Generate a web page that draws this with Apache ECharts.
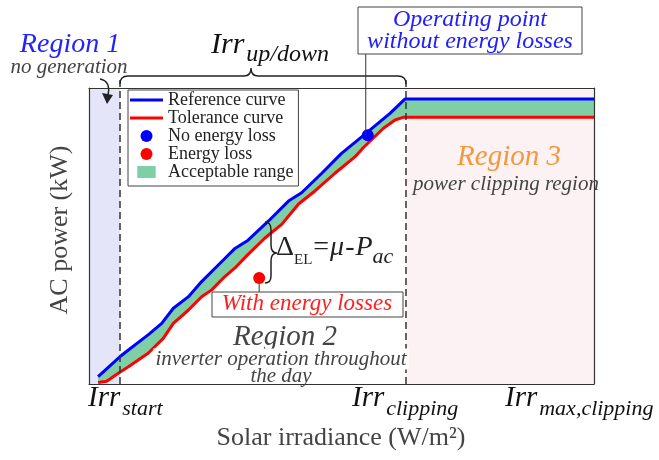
<!DOCTYPE html>
<html>
<head>
<meta charset="utf-8">
<script src="https://cdn.jsdelivr.net/npm/echarts@6/dist/echarts.min.js"></script>
<style>
  html, body { margin: 0; padding: 0; background: #fff; }
  #chart { width: 659px; height: 460px; }
</style>
</head>
<body>
<div id="chart"></div>
<script>
// Normalised irradiance (0-100) vs normalised AC power (0-100)
const refX = [1.8, 6.1, 7.8, 11.7, 14.4, 16.7, 19.7, 22.3, 25.0, 26.6, 28.9, 31.5, 35.5, 39.5, 42.1, 46.1, 50.0, 54.0, 59.6, 62.6, 100];
const refY = [2.5, 9.2, 11.5, 16.6, 20.5, 25.6, 29.5, 34.6, 39.2, 41.9, 45.8, 48.6, 55.0, 61.8, 64.6, 71.2, 77.9, 83.5, 91.4, 96.3, 96.3];
const tolX = [1.8, 3.5, 5.8, 7.8, 11.7, 14.7, 16.7, 19.7, 22.3, 24.3, 26.9, 28.9, 31.5, 34.9, 38.2, 41.5, 44.8, 48.7, 52.7, 54.3, 58.3, 60.6, 62.2, 100];
const tolY = [0.5, 0.9, 3.6, 5.8, 10.4, 15.4, 20.5, 25.0, 29.5, 31.8, 36.3, 39.2, 43.8, 49.4, 54.0, 60.8, 65.3, 71.2, 76.8, 79.8, 86.4, 89.2, 90.1, 90.1];
const regionBounds = [6.14, 62.77];     // Irr_start, Irr_clipping
const noLossPoint = [55.2, 84.0];
const lossPoint = [33.7, 35.8];
const legendNames = ['Reference curve', 'Tolerance curve', 'No energy loss', 'Energy loss', 'Acceptable range'];

const SERIF = 'Liberation Serif';
const GREEN = '#7fcfa6';
const BLUE = '#0000ff';
const RED = '#ff0000';
const LINE_ICON = 'path://M0,0 L33,0 L33,3 L0,3 Z';
const RANGE_ICON = 'path://M0,0 L23,0 L23,15 L0,15 Z';

const chart = echarts.init(document.getElementById('chart'), null, { renderer: 'canvas' });

const hiddenAxis = {
  type: 'value', min: 0, max: 100,
  axisTick: { show: false }, axisLabel: { show: false }, splitLine: { show: false },
  axisLine: { show: true, onZero: false, lineStyle: { color: '#333', width: 1.2 } },
  z: 10
};

// pixel-space decorations: braces and the region-1 arrow
function decorPaths(startX, clipX) {
  const by = 76, mid = 251;
  return [
    {
      d: 'M' + startX + ',84 Q' + startX + ',' + by + ' ' + (startX + 8) + ',' + by +
        ' L' + (mid - 7) + ',' + by + ' Q' + mid + ',' + by + ' ' + mid + ',68' +
        ' Q' + mid + ',' + by + ' ' + (mid + 7) + ',' + by +
        ' L' + (clipX - 8) + ',' + by + ' Q' + clipX + ',' + by + ' ' + clipX + ',84',
      w: 1.4
    },
    { d: 'M265,222 Q271,222 271,230 L271,245 Q271,253 277,253 Q271,253 271,261 L271,276 Q271,283 265,283', w: 1.5 },
    { d: 'M100,79 Q111,81 108,95', w: 1.5 }
  ];
}

chart.setOption({
  animation: false,
  backgroundColor: '#fff',
  grid: { left: 89, right: 65, top: 88, bottom: 76 },
  xAxis: [
    Object.assign({}, hiddenAxis, { position: 'bottom' }),
    Object.assign({}, hiddenAxis, { position: 'top' })
  ],
  yAxis: [
    Object.assign({}, hiddenAxis, { position: 'left' }),
    Object.assign({}, hiddenAxis, { position: 'right' })
  ],
  legend: {
    orient: 'vertical', left: 128, top: 90,
    padding: [1, 5, 5, 2], itemGap: 0, itemWidth: 33, itemHeight: 12,
    borderColor: '#444', borderWidth: 1, backgroundColor: '#fff',
    textStyle: { fontFamily: SERIF, fontSize: 18, color: '#222' },
    data: [
      { name: legendNames[0], icon: LINE_ICON },
      { name: legendNames[1], icon: LINE_ICON },
      { name: legendNames[2], icon: 'circle' },
      { name: legendNames[3], icon: 'circle' },
      { name: legendNames[4], icon: RANGE_ICON }
    ],
    z: 20
  },
  series: [
    {
      // shaded operating regions (no generation / power clipping)
      type: 'custom', name: 'regions', z: 0, silent: true,
      data: [[0, regionBounds[0], 0], [regionBounds[1], 100, 1]],
      renderItem: function (params, api) {
        const p0 = api.coord([api.value(0), 100]);
        const p1 = api.coord([api.value(1), 0]);
        return {
          type: 'rect',
          shape: { x: p0[0], y: p0[1], width: p1[0] - p0[0], height: p1[1] - p0[1] },
          style: { fill: api.value(2) === 0 ? '#e5e5fa' : '#fdf2f3' }
        };
      }
    },
    {
      type: 'custom', name: legendNames[4], z: 1, silent: true,
      itemStyle: { color: GREEN },
      data: [[0, 0]],
      renderItem: function (params, api) {
        const upper = refX.map((x, i) => api.coord([x, refY[i]]));
        const lower = tolX.map((x, i) => api.coord([x, tolY[i]])).reverse();
        return { type: 'polygon', shape: { points: upper.concat(lower) }, style: { fill: GREEN } };
      }
    },
    {
      // dashed boundaries at Irr_start and Irr_clipping, plus the braces
      type: 'custom', name: 'bounds', z: 4, silent: true, clip: false,
      data: [[regionBounds[0], 0]],
      renderItem: function (params, api) {
        const children = [];
        const xs = [];
        regionBounds.forEach(function (v) {
          const a = api.coord([v, 0]);
          const b = api.coord([v, 102.7]);
          xs.push(a[0]);
          children.push({
            type: 'line',
            shape: { x1: a[0], y1: a[1], x2: b[0], y2: b[1] },
            style: { stroke: '#333', lineWidth: 1.5, lineDash: [7, 4] }
          });
        });
        decorPaths(xs[0], xs[1]).forEach(function (p) {
          children.push({
            type: 'path', shape: { pathData: p.d },
            style: { stroke: '#222', lineWidth: p.w, fill: null }
          });
        });
        children.push({
          type: 'polygon', shape: { points: [[102, 93], [113, 95], [107, 104]] },
          style: { fill: '#222' }
        });
        return { type: 'group', children: children };
      }
    },
    {
      type: 'line', name: legendNames[1], z: 3, symbol: 'none',
      data: tolX.map((x, i) => [x, tolY[i]]),
      lineStyle: { color: RED, width: 3 }, itemStyle: { color: RED }
    },
    {
      type: 'line', name: legendNames[0], z: 3, symbol: 'none',
      data: refX.map((x, i) => [x, refY[i]]),
      lineStyle: { color: BLUE, width: 3 }, itemStyle: { color: BLUE }
    },
    {
      type: 'scatter', name: legendNames[2], z: 6, symbolSize: 12,
      data: [noLossPoint], itemStyle: { color: BLUE, opacity: 1 }
    },
    {
      type: 'scatter', name: legendNames[3], z: 6, symbolSize: 12,
      data: [lossPoint], itemStyle: { color: RED, opacity: 1 }
    }
  ]
});

// ---------- text annotations ----------
const px = v => chart.convertToPixel({ gridIndex: 0 }, v);
const startPx = px([regionBounds[0], 0]);
const clipPx = px([regionBounds[1], 0]);
const bluePx = px(noLossPoint);
const redPx = px(lossPoint);

function txt(x, y, text, size, color, opts) {
  return Object.assign({
    type: 'text', x: x, y: y, z: 30,
    style: Object.assign({
      text: text, fontFamily: SERIF, fontSize: size, fontStyle: 'italic', fill: color,
      align: 'center', verticalAlign: 'middle', textAlign: 'center', textVerticalAlign: 'middle'
    }, (opts && opts.style) || {})
  }, (opts && opts.el) || {});
}

function irrLabel(x, y, mainSize, sub, subSize) {
  return {
    type: 'text', x: x, y: y, z: 30,
    style: {
      text: '{m|Irr}{s|' + sub + '}',
      align: 'left', verticalAlign: 'bottom', textAlign: 'left', textVerticalAlign: 'bottom',
      rich: {
        m: { fontFamily: SERIF, fontStyle: 'italic', fontSize: mainSize, fill: '#111', padding: [0, 2, 7, 0], verticalAlign: 'bottom' },
        s: { fontFamily: SERIF, fontStyle: 'italic', fontSize: subSize, fill: '#111', verticalAlign: 'bottom' }
      }
    }
  };
}

const graphics = [
  // axis titles
  txt(341, 438, 'Solar irradiance (W/m\u00b2)', 26, '#444', { style: { fontStyle: 'normal' } }),
  txt(60, 230, 'AC power (kW)', 26, '#444', { style: { fontStyle: 'normal' }, el: { rotation: Math.PI / 2 } }),

  // Irr labels under the axis
  irrLabel(startPx[0] - 32, 420, 29, 'start', 22),
  irrLabel(clipPx[0] - 54, 420, 29, 'clipping', 22),
  irrLabel(505, 420, 29, 'max,clipping', 22),
  irrLabel(211, 67, 30, 'up/down', 24),

  // Region 1
  txt(70, 45, 'Region 1', 28, '#2222ff'),
  txt(69, 67, 'no generation', 21, '#444'),

  // operating point without losses
  {
    type: 'line', z: 25,
    shape: { x1: bluePx[0] - 2, y1: 54, x2: bluePx[0] - 2, y2: bluePx[1] },
    style: { stroke: '#333', lineWidth: 1 }
  },
  {
    type: 'rect', z: 28,
    shape: { x: 358, y: 7, width: 224, height: 47 },
    style: { fill: '#fff', stroke: '#444', lineWidth: 1 }
  },
  txt(470, 20, 'Operating point', 24, '#2020ff'),
  txt(470, 42, 'without energy losses', 24, '#2020ff'),

  // operating point with losses
  {
    type: 'line', z: 5,
    shape: { x1: redPx[0], y1: redPx[1], x2: redPx[0], y2: 292 },
    style: { stroke: '#555', lineWidth: 1.2 }
  },
  {
    type: 'rect', z: 28,
    shape: { x: 212, y: 292, width: 191, height: 25 },
    style: { fill: '#fff', stroke: '#444', lineWidth: 1 }
  },
  txt(307, 304, 'With energy losses', 23, '#ff2020'),

  // energy-loss formula
  {
    type: 'text', x: 276, y: 268, z: 30,
    style: {
      text: '{d|\u0394}{sub|EL}{m|=}{i|\u03bc}{m|-}{i|P}{subi|ac}',
      align: 'left', verticalAlign: 'bottom', textAlign: 'left', textVerticalAlign: 'bottom',
      rich: {
        d: { fontFamily: SERIF, fontSize: 28, fill: '#222', padding: [0, 0, 6, 0], verticalAlign: 'bottom' },
        sub: { fontFamily: SERIF, fontSize: 15, fill: '#222', verticalAlign: 'bottom' },
        m: { fontFamily: SERIF, fontSize: 28, fill: '#222', padding: [0, 1, 6, 1], verticalAlign: 'bottom' },
        i: { fontFamily: SERIF, fontStyle: 'italic', fontSize: 28, fill: '#222', padding: [0, 0, 6, 0], verticalAlign: 'bottom' },
        subi: { fontFamily: SERIF, fontStyle: 'italic', fontSize: 22, fill: '#222', verticalAlign: 'bottom' }
      }
    }
  },

  // Region 2
  txt(285, 337, 'Region 2', 29, '#444'),
  txt(281, 359, 'inverter operation throughout', 21, '#444', { style: { backgroundColor: '#fff', padding: [0, 2, 0, 2] } }),
  txt(281, 376, 'the day', 21, '#444'),

  // Region 3
  txt(509, 157, 'Region 3', 29, '#f5973c'),
  txt(506, 184, 'power clipping region', 21, '#444')
];

chart.setOption({ graphic: graphics });
</script>
</body>
</html>
